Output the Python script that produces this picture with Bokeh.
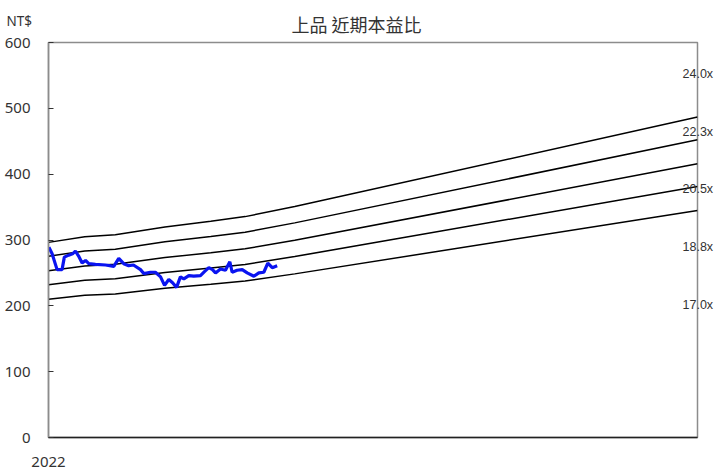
from bokeh.plotting import figure
from bokeh.models import FixedTicker, Range1d, LinearAxis, Title
from bokeh.embed import file_html
from bokeh.resources import INLINE

title_text = "上品 近期本益比"
unit_text = "NT$"
year_label = "2022"

# x in months from start of 2022
eps_month = [0.0, 1.9, 3.5, 6.1, 8.5, 10.3, 12.9, 34.0]
eps_value = [12.35, 12.71, 12.83, 13.33, 13.69, 13.98, 14.62, 20.28]
pe_multiples = [24.0, 22.3, 20.5, 18.8, 17.0]
pe_labels = ["24.0x", "22.3x", "20.5x", "18.8x", "17.0x"]

price_month = [0.02, 0.19, 0.45, 0.71, 0.83, 1.06, 1.26, 1.41, 1.57, 1.76, 1.94,
               2.11, 2.46, 2.99, 3.42, 3.68, 3.94, 4.20, 4.45, 4.82, 4.99, 5.34,
               5.60, 5.87, 6.08, 6.30, 6.50, 6.71, 6.91, 7.09, 7.35, 7.61, 7.96,
               8.17, 8.40, 8.59, 8.75, 9.01, 9.27, 9.50, 9.62, 9.88, 10.15,
               10.41, 10.76, 11.02, 11.28, 11.49, 11.72, 11.98]
price_value = [289, 279, 255, 255, 274, 277, 279, 283, 276, 265, 269,
               264, 263, 262, 260, 272, 264, 261, 262, 255, 249, 251,
               251, 244, 231, 240, 235, 228, 244, 241, 246, 245, 246,
               252, 258, 255, 250, 256, 254, 267, 251, 254, 255,
               250, 245, 250, 251, 265, 258, 261]

x_end = 34.0
p = figure(width=720, height=470, output_backend="svg", toolbar_location=None,
           title=None, x_range=Range1d(0, x_end), y_range=Range1d(0, 600),
           min_border_left=48, min_border_right=23, min_border_top=42,
           min_border_bottom=33)
p.grid.visible = False
p.outline_line_color = "#8c8c8c"
p.outline_line_width = 1.5
p.background_fill_color = "white"
p.border_fill_color = "white"

# y axis
p.yaxis.ticker = FixedTicker(ticks=[0, 100, 200, 300, 400, 500, 600])
p.yaxis.axis_line_color = "#8c8c8c"
p.yaxis.axis_line_width = 1.5
p.yaxis.major_tick_in = 5
p.yaxis.major_tick_out = 0
p.yaxis.major_tick_line_color = "#333333"
p.yaxis.minor_tick_line_color = None
p.yaxis.major_label_text_font = "Noto Sans"
p.yaxis.major_label_text_font_size = "15px"
p.yaxis.major_label_text_color = "#333333"
p.yaxis.major_label_standoff = 18

# x axis
p.xaxis.ticker = FixedTicker(ticks=[0])
p.xaxis.major_label_overrides = {0: year_label}
p.xaxis.axis_line_color = "#222222"
p.xaxis.axis_line_width = 1.5
p.xaxis.major_tick_line_color = None
p.xaxis.minor_tick_line_color = None
p.xaxis.major_label_text_font = "Noto Sans"
p.xaxis.major_label_text_font_size = "15px"
p.xaxis.major_label_text_color = "#333333"
p.xaxis.major_label_standoff = 13

for m in pe_multiples:
    p.line(eps_month, [e * m for e in eps_value], line_color="black", line_width=1.5)

p.line(price_month, price_value, line_color="#0a14f0", line_width=3.2)

# right-side multiple labels, evenly stacked from the top, via a label-only axis
label_pos = [int(round(552 - i * 87.5)) for i in range(len(pe_labels))]
raxis = LinearAxis(ticker=FixedTicker(ticks=label_pos),
                   major_label_overrides=dict(zip(label_pos, pe_labels)))
raxis.axis_line_color = None
raxis.major_tick_line_color = None
raxis.minor_tick_line_color = None
raxis.major_tick_out = 0
raxis.major_tick_in = 0
raxis.major_label_standoff = -15
raxis.major_label_text_font = "Liberation Sans"
raxis.major_label_text_font_size = "12.5px"
raxis.major_label_text_color = "#333333"
p.add_layout(raxis, "right")

main_title = Title(text=title_text, align="left", offset=243,
                   text_font="Noto Sans CJK TC", text_font_size="18px",
                   text_font_style="normal", text_color="#333333", standoff=11)
p.add_layout(main_title, "above")
unit_title = Title(text=unit_text, align="left", offset=-42,
                   text_font="Noto Sans", text_font_size="13.5px",
                   text_font_style="normal", text_color="#333333", standoff=-52)
p.add_layout(unit_title, "above")

open("out.html", "w").write(file_html(p, INLINE))
